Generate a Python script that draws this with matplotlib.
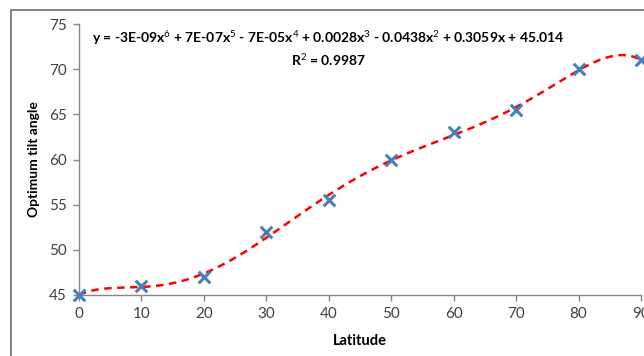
import matplotlib
matplotlib.use('Agg')
import matplotlib.pyplot as plt
from matplotlib.patches import Rectangle
import numpy as np

latitude = [0, 10, 20, 30, 40, 50, 60, 70, 80, 90]
tilt_angle = [45, 46, 47, 52, 55.5, 60, 63, 65.5, 70, 71]
x_ticks = [0, 10, 20, 30, 40, 50, 60, 70, 80, 90]
y_ticks = [45, 50, 55, 60, 65, 70, 75]
equation = "y = -3E-09x$^6$ + 7E-07x$^5$ - 7E-05x$^4$ + 0.0028x$^3$ - 0.0438x$^2$ + 0.3059x + 45.014"
r_squared = "R$^2$ = 0.9987"

plt.rcParams['font.family'] = ['Lato', 'DejaVu Sans']
plt.rcParams['mathtext.fontset'] = 'custom'
plt.rcParams['mathtext.rm'] = 'Lato'
plt.rcParams['mathtext.bf'] = 'Lato:bold'

fig = plt.figure(figsize=(6.44, 3.56), dpi=100)
# outer chart frame (cropped on right / bottom)
fig.patches.append(Rectangle((11 / 644, -0.1), 1.2, 1 - 10 / 356 + 0.1,
                             transform=fig.transFigure, fill=False,
                             edgecolor='#6e6e6e', linewidth=1.2))

ax = fig.add_axes([79 / 644, 1 - 295 / 356, (641 - 79) / 644, (295 - 24) / 356])

# 6th order polynomial trendline
coef = np.polyfit(latitude, tilt_angle, 6)
xs = np.linspace(0, 90, 400)
ax.plot(xs, np.polyval(coef, xs), color='#ff0000', linestyle=(0, (3, 2.2)),
        linewidth=1.8, clip_on=False, zorder=2)

ax.scatter(latitude, tilt_angle, marker='x', s=70, linewidths=2.2,
           color='#4a7ebb', clip_on=False, zorder=3)

ax.set_xlim(0, 90)
ax.set_ylim(45, 75)
ax.set_xticks(x_ticks)
ax.set_yticks(y_ticks)

for side in ['top', 'right']:
    ax.spines[side].set_visible(False)
for side in ['left', 'bottom']:
    ax.spines[side].set_color('#868686')
    ax.spines[side].set_linewidth(1.0)
ax.tick_params(direction='out', length=4, width=1, color='#868686',
               labelsize=11, labelcolor='#404040', pad=5)

ax.set_xlabel('Latitude', fontsize=10.5, fontweight='bold', labelpad=9)
ax.set_ylabel('Optimum tilt angle', fontsize=10, fontweight='bold', labelpad=6)

fig.text(328 / 644, 1 - 48.5 / 356, equation + "\n" + r_squared, ha='center', va='center',
         fontsize=10, fontweight='bold', linespacing=1.3,
         math_fontfamily='custom')

fig.savefig('out.png', dpi=100)
